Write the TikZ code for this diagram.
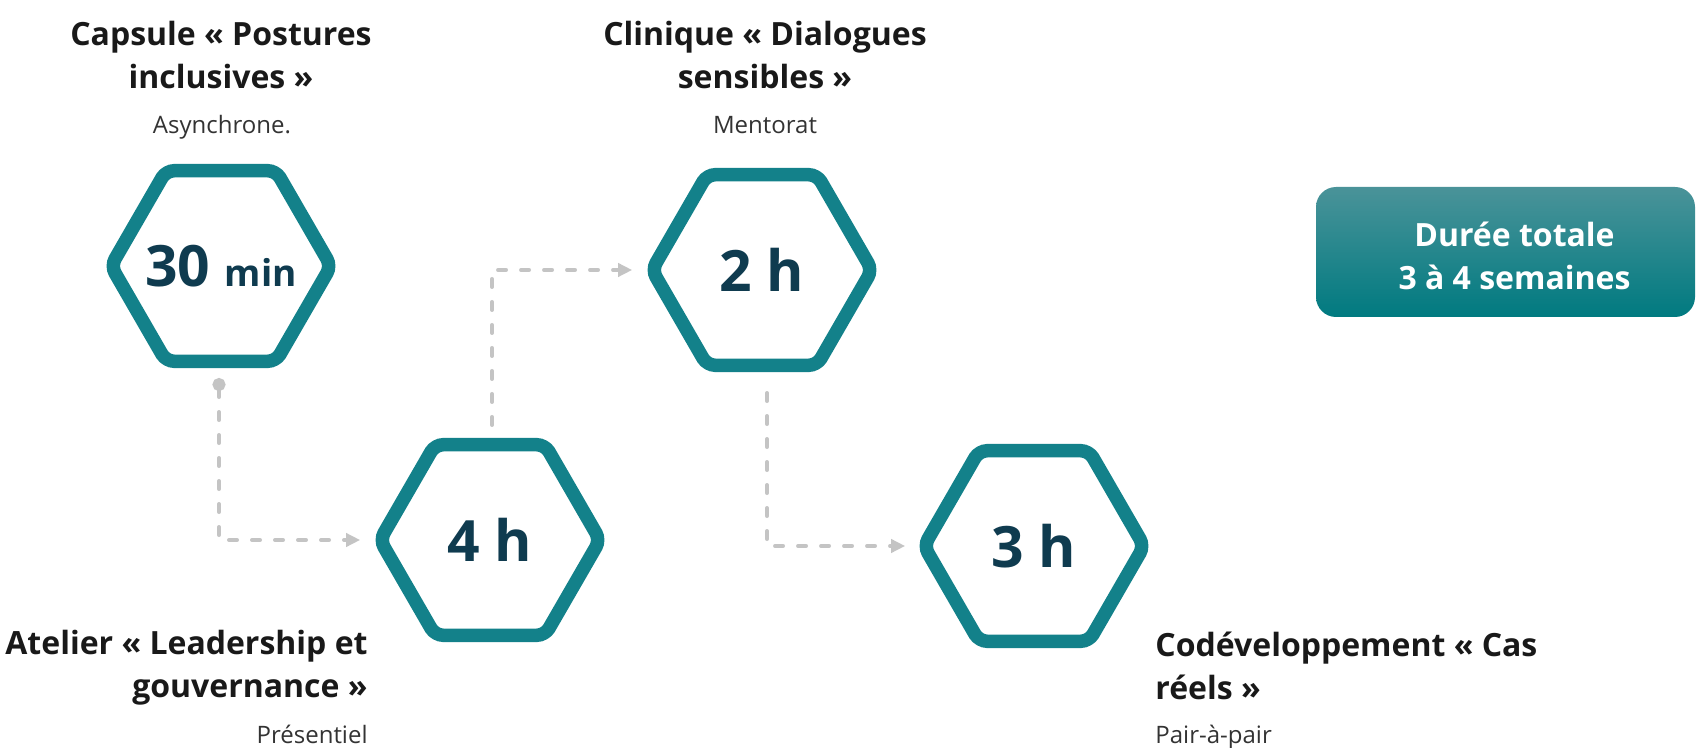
\documentclass[tikz,border=0pt]{standalone}
\usepackage{fontspec}
\setmainfont{Open Sans}
\usetikzlibrary{shapes.geometric, arrows.meta, positioning}
\definecolor{hexteal}{HTML}{13818A}
\definecolor{hexink}{HTML}{0F3B4F}
\definecolor{flowgray}{HTML}{C4C4C4}
\definecolor{boxtop}{HTML}{4A9399}
\definecolor{boxbottom}{HTML}{007A80}
\tikzset{
    hexnode/.style={regular polygon, regular polygon sides=6, minimum size=110pt,
        inner sep=0pt, draw=hexteal, line width=6.75pt, rounded corners=4pt,
        text=hexink, font=\fontsize{28.5}{30}\selectfont\bfseries},
    titletext/.style={align=center, inner sep=0pt, text=black!90,
        font=\fontsize{16}{21.5}\selectfont\bfseries},
    subtext/.style={inner sep=0pt, text=black!80, font=\fontsize{12}{14}\selectfont},
    flow/.style={draw=flowgray, line width=2pt, line cap=round,
        dash pattern=on 4pt off 7.5pt, -{Triangle[length=7pt, width=6.5pt]}},
    flowdot/.style={flow, {Circle[length=6.5pt]}-{Triangle[length=7pt, width=6.5pt]}},
    totalbox/.style={rectangle, rounded corners=10pt, minimum width=189.5pt,
        minimum height=65pt, top color=boxtop, bottom color=boxbottom, text=white,
        align=center, font=\fontsize{16}{21.5}\selectfont\bfseries},
}

\begin{document}
\begin{tikzpicture}[x=0.5pt, y=-0.5pt]
    \useasboundingbox (0,0) rectangle (1696,748);

    % the four steps
    \node[hexnode] (capsule) at (221,266) {\makebox[0pt]{30 {\fontsize{18.5}{20}\selectfont min}}};
    \node[hexnode] (atelier) at (490,540) {4 h};
    \node[hexnode] (clinique) at (762,270) {2 h};
    \node[hexnode] (codev) at (1034,546) {3 h};

    % titles and modes
    \node[titletext, anchor=north] (capsuletitle) at (221,21) {Capsule « Postures\\inclusives »};
    \node[subtext, anchor=base] (capsulemode) at (222,134) {Asynchrone.};
    \node[titletext, anchor=north] (cliniquetitle) at (765,21) {Clinique « Dialogues\\sensibles »};
    \node[subtext, anchor=base] (cliniquemode) at (765,134) {Mentorat};
    \node[titletext, align=right, anchor=north east] (ateliertitle) at (368,630) {Atelier « Leadership et\\gouvernance »};
    \node[subtext, anchor=base east] (ateliermode) at (368,743) {Présentiel};
    \node[titletext, align=left, anchor=north west] (codevtitle) at (1155,632) {Codéveloppement « Cas\\réels »};
    \node[subtext, anchor=base west] (codevmode) at (1155,743) {Pair-à-pair};

    \node[totalbox] (total) at (1505.5,252) {\rule{0pt}{16pt}\hspace*{9pt}Durée totale\\\hspace*{9pt}3 à 4 semaines};

    % connectors
    \draw[flowdot] ([xshift=-1pt, yshift=-5pt]capsule.south) |- ([xshift=-6pt]atelier.west);
    \draw[flow] ([xshift=1pt, yshift=6.5pt]atelier.north) |- ([xshift=-6pt]clinique.west);
    \draw[flow] ([xshift=2.5pt, yshift=-10.5pt]clinique.south) |- ([xshift=-5.5pt]codev.west);
\end{tikzpicture}
\end{document}
